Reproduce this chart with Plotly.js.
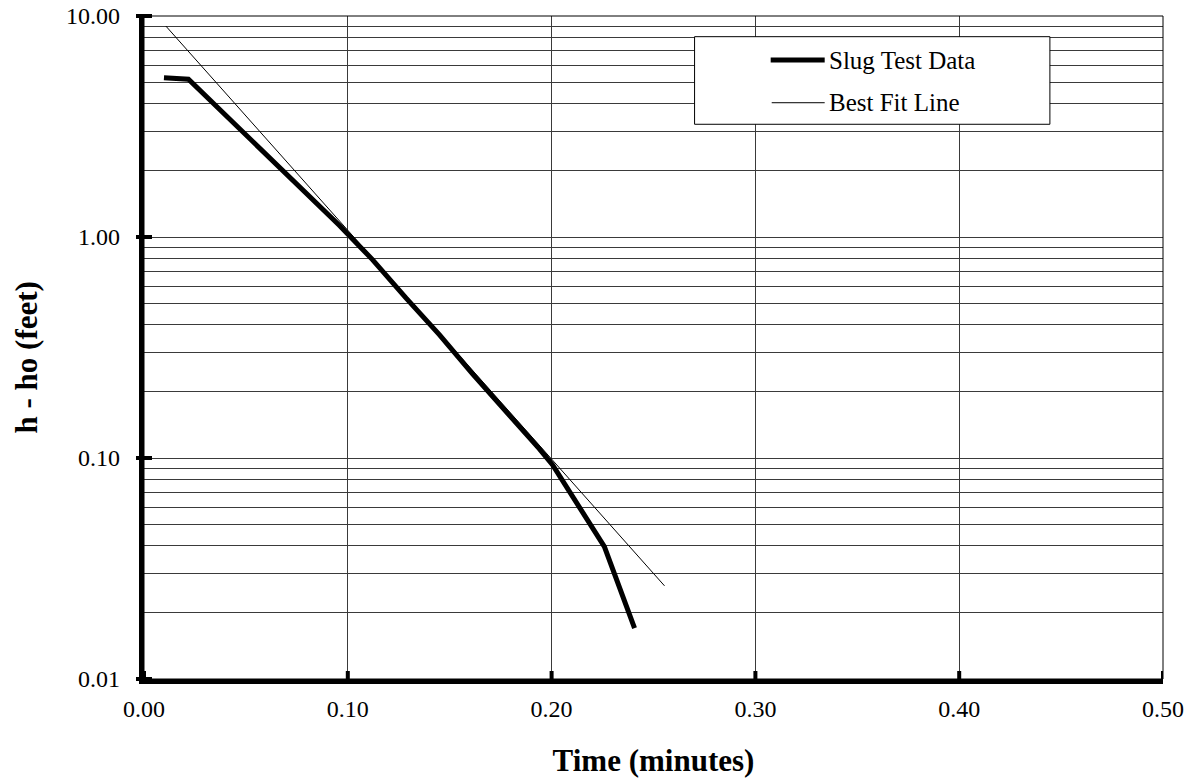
<!DOCTYPE html>
<html>
<head>
<meta charset="utf-8">
<script src="https://cdn.plot.ly/plotly-3.0.1.min.js"></script>
<style>
html,body{margin:0;padding:0;background:#fff;}
#chart{width:1192px;height:780px;}
</style>
</head>
<body>
<div id="chart"></div>
<script>
// Slug test data (time in minutes, head difference in feet)
const slugTime = [0.0098, 0.0218, 0.0958, 0.1121, 0.1285, 0.1449, 0.1612, 0.1777, 0.1940, 0.2005, 0.2104, 0.2259, 0.2407];
const slugHead = [5.26, 5.18, 1.13, 0.79, 0.53, 0.362, 0.240, 0.163, 0.110, 0.093, 0.0668, 0.0397, 0.0170];

// Best fit line end points
const fitTime = [0.0107, 0.2554];
const fitHead = [9.01, 0.0264];

// Tick labels
const xTickVals = [0, 0.1, 0.2, 0.3, 0.4, 0.5];
const xTickText = ["0.00", "0.10", "0.20", "0.30", "0.40", "0.50"];
const yTickVals = [0.01, 0.1, 1, 10];
const yTickText = ["0.01", "0.10", "1.00", "10.00"];

const legendNames = ["Slug Test Data", "Best Fit Line"];
const yTitle = "h - ho (feet)";

const serif = "Liberation Serif, Times New Roman, serif";

const traces = [
  {
    x: slugTime, y: slugHead, type: "scatter", mode: "lines",
    name: legendNames[0],
    line: {color: "#000", width: 5},
    showlegend: false
  },
  {
    x: fitTime, y: fitHead, type: "scatter", mode: "lines",
    name: legendNames[1],
    line: {color: "#000", width: 1},
    showlegend: false
  }
];

const gridCol = "#3a3a3a";
const plotW = 1192 - 144 - 29;
const plotH = 780 - 16 - 101;
const yMin = -2, yMax = 1;
const yPaper = v => (Math.log10(v) - yMin) / (yMax - yMin);

// Cross-shaped tick marks (straddling the thick axis lines), placed at the tick values
const tickShapes = [];
yTickVals.forEach(v => {
  tickShapes.push({type: "line", xref: "paper", yref: "paper",
    x0: -8 / plotW, x1: 8 / plotW, y0: yPaper(v), y1: yPaper(v),
    line: {color: "#000", width: 4}, layer: "above"});
});
xTickVals.forEach(v => {
  tickShapes.push({type: "line", xref: "x", yref: "paper",
    x0: v, x1: v, y0: -5 / plotH, y1: 8 / plotH,
    line: {color: "#000", width: 4}, layer: "above"});
});

// Y tick labels, placed at the tick values
const yLabelAnn = yTickVals.map((v, i) => ({
  xref: "paper", yref: "paper", x: -22 / plotW, y: yPaper(v),
  xanchor: "right", yanchor: "middle", showarrow: false,
  text: yTickText[i], font: {family: serif, size: 24}
}));

const layout = {
  width: 1192, height: 780,
  margin: {l: 144, r: 29, t: 16, b: 101},
  paper_bgcolor: "#fff", plot_bgcolor: "#fff",
  font: {family: serif, color: "#000", size: 24},
  showlegend: false,
  xaxis: {
    range: [0, 0.5],
    tickvals: xTickVals, ticktext: xTickText,
    showgrid: true, gridcolor: gridCol, gridwidth: 1,
    zeroline: false,
    showline: true, linecolor: "#000", linewidth: 5,
    ticks: "outside", ticklen: 4, tickwidth: 1, tickcolor: "rgba(0,0,0,0)",
    tickfont: {family: serif, size: 24},
    title: {text: "<b>Time (minutes)</b>", font: {family: serif, size: 31}, standoff: 30}
  },
  yaxis: {
    type: "log",
    range: [yMin, yMax],
    tickvals: yTickVals, showticklabels: false,
    showgrid: true, gridcolor: gridCol, gridwidth: 1,
    zeroline: false,
    showline: true, linecolor: "#000", linewidth: 5,
    ticks: "",
    minor: {dtick: "D1", showgrid: true, gridcolor: gridCol, gridwidth: 1, ticks: ""}
  },
  shapes: [
    {type: "rect", xref: "paper", yref: "paper", x0: 0, x1: 1, y0: 0, y1: 1,
     line: {color: "#000", width: 1}, layer: "above"},
    {type: "rect", xref: "paper", yref: "paper", x0: 0.5403, x1: 0.889, y0: 0.8367, y1: 0.9688,
     fillcolor: "#fff", line: {color: "#000", width: 1}, layer: "above"},
    {type: "line", xref: "paper", yref: "paper", x0: 0.615, x1: 0.668, y0: 0.9336, y1: 0.9336,
     line: {color: "#000", width: 5}, layer: "above"},
    {type: "line", xref: "paper", yref: "paper", x0: 0.616, x1: 0.668, y0: 0.8692, y1: 0.8692,
     line: {color: "#000", width: 1}, layer: "above"}
  ].concat(tickShapes),
  annotations: [
    {xref: "paper", yref: "paper", x: 0.670, y: 0.9336, xanchor: "left", yanchor: "middle",
     text: legendNames[0], showarrow: false, font: {family: serif, size: 25}},
    {xref: "paper", yref: "paper", x: 0.670, y: 0.8692, xanchor: "left", yanchor: "middle",
     text: legendNames[1], showarrow: false, font: {family: serif, size: 25}},
    {xref: "paper", yref: "paper", x: (26 - 144) / plotW, y: 0.485, xanchor: "center", yanchor: "middle",
     textangle: -90, text: "<b>" + yTitle + "</b>", showarrow: false, font: {family: serif, size: 31}}
  ].concat(yLabelAnn)
};

Plotly.newPlot("chart", traces, layout, {displayModeBar: false, staticPlot: true});
</script>
</body>
</html>
